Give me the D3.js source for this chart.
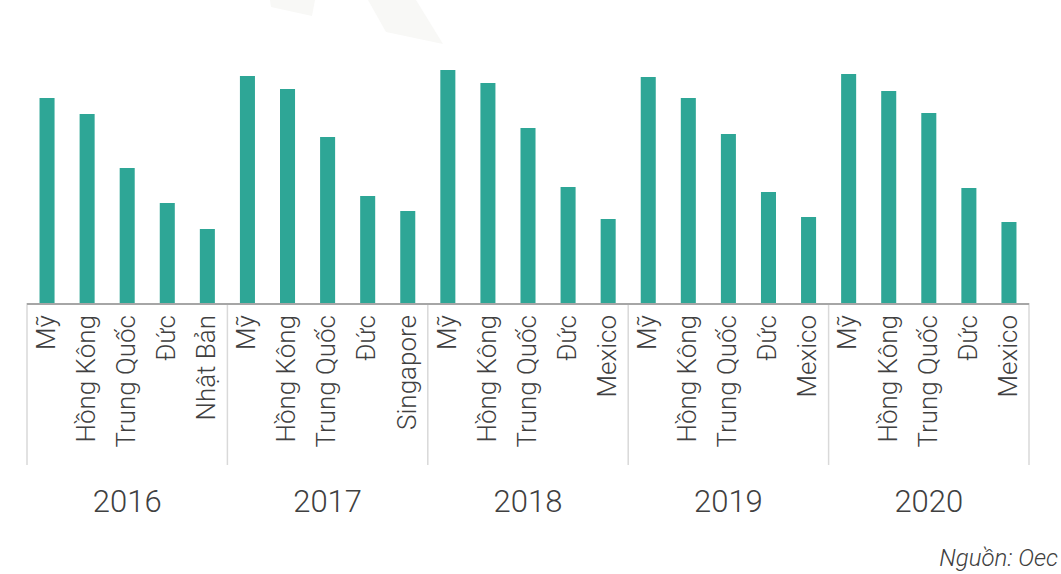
<!DOCTYPE html>
<html>
<head>
<meta charset="utf-8">
<script src="https://cdn.jsdelivr.net/npm/d3@7"></script>
<style>
  body { margin: 0; background: #fff; }
  svg { display: block; font-family: Roboto, 'Liberation Sans', sans-serif; }
</style>
</head>
<body>
<div class="chart"></div>
<script>
var years = ['2016', '2017', '2018', '2019', '2020']
var countries2016 = ['Mỹ', 'Hồng Kông', 'Trung Quốc', 'Đức', 'Nhật Bản']
var countries2017 = ['Mỹ', 'Hồng Kông', 'Trung Quốc', 'Đức', 'Singapore']
var countries2018 = ['Mỹ', 'Hồng Kông', 'Trung Quốc', 'Đức', 'Mexico']
var countries2019 = ['Mỹ', 'Hồng Kông', 'Trung Quốc', 'Đức', 'Mexico']
var countries2020 = ['Mỹ', 'Hồng Kông', 'Trung Quốc', 'Đức', 'Mexico']
var values2016 = [205, 189, 135, 100, 74]
var values2017 = [227, 214, 166, 107, 92]
var values2018 = [233, 220, 175, 116, 84]
var values2019 = [226, 205, 169, 111, 86]
var values2020 = [229, 212, 190, 115, 81]
var source = 'Nguồn: Oec'

var groups = [countries2016, countries2017, countries2018, countries2019, countries2020]
var vals = [values2016, values2017, values2018, values2019, values2020]

// flatten into one row per bar
var data = []
years.forEach(function (yr, g) {
  groups[g].forEach(function (c, i) {
    data.push({ key: yr + '|' + i, year: yr, country: c, value: vals[g][i] })
  })
})

var W = 1061, H = 574
var margin = { top: 70, right: 32, bottom: 271, left: 27 }
var width = W - margin.left - margin.right
var height = H - margin.top - margin.bottom

var svg = d3.select('.chart')
  .append('svg')
    .attr('width', W)
    .attr('height', H)

// faint watermark shapes at the top
svg.append('polygon')
  .attr('points', '270,0 271,7 312,16 315,0')
  .attr('fill', '#f8f8f6')
svg.append('polygon')
  .attr('points', '368,0 386,32 443,44 416,0')
  .attr('fill', '#f8f8f6')

var g = svg.append('g')
  .attr('transform', `translate(${margin.left}, ${margin.top})`)

var xScale = d3.scaleBand()
  .domain(data.map(d => d.key))
  .range([0, width])
  .paddingInner(0.625)
  .paddingOuter(0.3125)

var yScale = d3.scaleLinear()
  .domain([0, 233])
  .range([height, 0])

var groupScale = d3.scaleBand()
  .domain(years)
  .range([0, width])

g.selectAll('rect.bar')
  .data(data)
  .enter().append('rect')
    .attr('class', 'bar')
    .attr('x', d => xScale(d.key))
    .attr('y', d => yScale(d.value))
    .attr('width', xScale.bandwidth())
    .attr('height', d => height - yScale(d.value))
    .attr('fill', '#2ea696')

// group separators
var seps = years.map(y => groupScale(y)).concat([width])
g.selectAll('line.sep')
  .data(seps)
  .enter().append('line')
    .attr('class', 'sep')
    .attr('x1', d => d)
    .attr('x2', d => d)
    .attr('y1', height)
    .attr('y2', height + 162)
    .attr('stroke', '#d9d9d9')
    .attr('stroke-width', 1.5)

// baseline
g.append('line')
  .attr('x1', 0)
  .attr('x2', width)
  .attr('y1', height + 1)
  .attr('y2', height + 1)
  .attr('stroke', '#a6a6a6')
  .attr('stroke-width', 2)

// category labels, rotated
g.selectAll('text.cat')
  .data(data)
  .enter().append('text')
    .attr('class', 'cat')
    .attr('transform', d => `translate(${xScale(d.key) + xScale.bandwidth() / 2}, ${height + 12}) rotate(-90)`)
    .attr('dy', '0.3em')
    .attr('text-anchor', 'end')
    .attr('font-size', 26)
    .attr('font-weight', 300)
    .attr('fill', '#404040')
    .text(d => d.country)

// year labels
g.selectAll('text.year')
  .data(years)
  .enter().append('text')
    .attr('class', 'year')
    .attr('x', d => groupScale(d) + groupScale.bandwidth() / 2)
    .attr('y', height + 209)
    .attr('text-anchor', 'middle')
    .attr('font-size', 31)
    .attr('font-weight', 300)
    .attr('fill', '#404040')
    .text(d => d)

svg.append('text')
  .attr('x', W - 3)
  .attr('y', 566)
  .attr('text-anchor', 'end')
  .attr('font-size', 24)
  .attr('font-style', 'italic')
  .attr('font-weight', 300)
  .attr('fill', '#404040')
  .text(source)
</script>
</body>
</html>
